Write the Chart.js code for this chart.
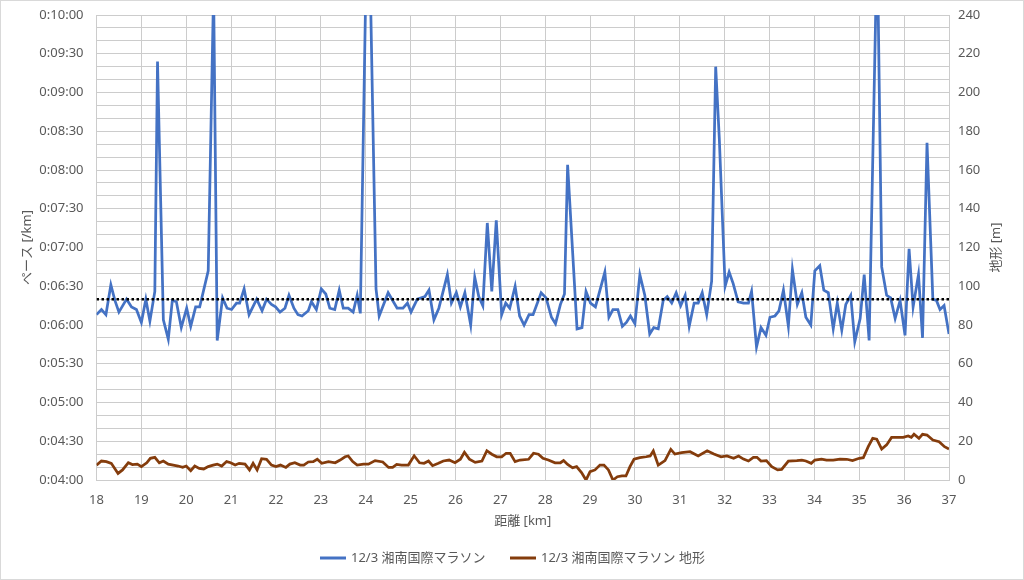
<!DOCTYPE html>
<html>
<head>
<meta charset="utf-8">
<script src="https://cdn.jsdelivr.net/npm/chart.js@4.4.0/dist/chart.umd.min.js"></script>
<style>
  html, body { margin: 0; padding: 0; background: #fff; }
  #wrap { width: 1024px; height: 580px; }
</style>
</head>
<body>
<div id="wrap"><canvas id="paceChart" width="1024" height="580"></canvas></div>
<script>
// ペース（秒/km）と地形（m）を距離に対して表示
const paceKm = [18.00, 18.11, 18.21, 18.32, 18.41, 18.50, 18.67, 18.78, 18.89, 19.00, 19.10, 19.19, 19.30, 19.36, 19.49, 19.60, 19.69, 19.78, 19.89, 20.01, 20.10, 20.21, 20.30, 20.49, 20.61, 20.69, 20.81, 20.91, 21.01, 21.12, 21.19, 21.29, 21.40, 21.57, 21.69, 21.79, 21.90, 21.99, 22.09, 22.20, 22.29, 22.40, 22.49, 22.58, 22.72, 22.79, 22.90, 23.01, 23.11, 23.20, 23.31, 23.41, 23.50, 23.61, 23.72, 23.81, 23.88, 24.05, 24.23, 24.30, 24.50, 24.70, 24.83, 24.93, 25.01, 25.15, 25.32, 25.41, 25.52, 25.63, 25.82, 25.91, 26.02, 26.11, 26.21, 26.34, 26.43, 26.52, 26.61, 26.71, 26.81, 26.91, 27.03, 27.12, 27.21, 27.33, 27.43, 27.53, 27.64, 27.73, 27.91, 28.02, 28.14, 28.23, 28.34, 28.43, 28.50, 28.71, 28.82, 28.91, 29.01, 29.12, 29.33, 29.42, 29.51, 29.62, 29.72, 29.81, 29.90, 30.00, 30.11, 30.22, 30.33, 30.42, 30.52, 30.63, 30.72, 30.82, 30.92, 31.02, 31.12, 31.21, 31.32, 31.41, 31.50, 31.60, 31.71, 31.80, 31.88, 32.01, 32.10, 32.19, 32.30, 32.42, 32.53, 32.60, 32.71, 32.81, 32.92, 33.01, 33.12, 33.21, 33.31, 33.42, 33.51, 33.62, 33.72, 33.81, 33.92, 34.01, 34.12, 34.21, 34.31, 34.42, 34.51, 34.61, 34.70, 34.81, 34.90, 35.02, 35.11, 35.22, 35.40, 35.50, 35.61, 35.70, 35.80, 35.91, 36.02, 36.11, 36.20, 36.32, 36.41, 36.51, 36.64, 36.72, 36.80, 36.89, 37.00];
const paceSec = [368, 372, 368, 391, 379, 370, 380, 374, 372, 362, 380, 363, 386, 564, 364, 349, 379, 378, 358, 373, 359, 374, 374, 402, 620, 348, 381, 373, 372, 377, 377, 388, 368, 380, 371, 380, 376, 374, 370, 373, 383, 373, 368, 367, 371, 378, 372, 388, 384, 373, 372, 387, 373, 373, 370, 383, 369, 720, 388, 367, 385, 373, 373, 377, 370, 380, 382, 387, 364, 373, 399, 377, 385, 374, 385, 360, 397, 382, 375, 439, 386, 441, 368, 377, 373, 390, 367, 360, 368, 368, 385, 381, 366, 361, 376, 384, 484, 357, 358, 386, 377, 374, 401, 366, 372, 372, 359, 362, 367, 361, 399, 383, 353, 358, 357, 379, 382, 377, 385, 375, 383, 359, 377, 377, 385, 368, 394, 560, 505, 390, 401, 392, 378, 377, 377, 386, 343, 358, 352, 366, 367, 371, 387, 359, 403, 376, 385, 366, 360, 402, 406, 387, 385, 357, 377, 356, 376, 383, 347, 365, 399, 348, 660, 405, 383, 381, 365, 379, 352, 419, 374, 399, 350, 501, 380, 379, 372, 375, 353];

const terrainKm = [18.00, 18.11, 18.22, 18.33, 18.48, 18.58, 18.71, 18.80, 18.91, 19.00, 19.12, 19.20, 19.30, 19.40, 19.49, 19.60, 19.71, 19.82, 19.92, 20.00, 20.10, 20.19, 20.29, 20.39, 20.49, 20.60, 20.69, 20.79, 20.90, 20.99, 21.09, 21.18, 21.31, 21.41, 21.49, 21.58, 21.68, 21.79, 21.90, 22.00, 22.10, 22.22, 22.31, 22.42, 22.54, 22.62, 22.72, 22.83, 22.92, 23.02, 23.17, 23.32, 23.43, 23.54, 23.61, 23.71, 23.81, 23.95, 24.06, 24.21, 24.38, 24.51, 24.60, 24.69, 24.80, 24.95, 25.08, 25.20, 25.30, 25.40, 25.49, 25.62, 25.73, 25.86, 25.99, 26.11, 26.20, 26.31, 26.44, 26.59, 26.70, 26.81, 26.92, 27.03, 27.13, 27.22, 27.33, 27.44, 27.63, 27.74, 27.85, 27.95, 28.07, 28.22, 28.34, 28.41, 28.50, 28.61, 28.70, 28.81, 28.91, 29.00, 29.11, 29.22, 29.31, 29.41, 29.51, 29.61, 29.71, 29.80, 29.89, 29.98, 30.11, 30.25, 30.34, 30.41, 30.52, 30.67, 30.80, 30.89, 31.04, 31.23, 31.41, 31.61, 31.76, 31.92, 32.05, 32.20, 32.31, 32.42, 32.53, 32.64, 32.72, 32.81, 32.93, 33.05, 33.18, 33.27, 33.42, 33.61, 33.72, 33.81, 33.93, 34.01, 34.16, 34.27, 34.42, 34.57, 34.72, 34.85, 35.00, 35.09, 35.20, 35.30, 35.39, 35.50, 35.61, 35.72, 35.83, 35.98, 36.09, 36.16, 36.22, 36.33, 36.41, 36.51, 36.64, 36.78, 36.90, 37.00];
const terrainM = [7.7, 9.8, 9.5, 8.6, 3.4, 5.2, 8.9, 8.0, 8.2, 6.9, 8.9, 11.2, 11.7, 8.9, 9.8, 8.2, 7.7, 7.2, 6.5, 7.2, 4.8, 7.2, 6.0, 5.7, 6.9, 7.7, 8.2, 7.2, 9.5, 8.9, 7.7, 8.6, 8.2, 5.2, 8.6, 5.2, 11.0, 10.7, 7.7, 6.9, 7.7, 6.5, 8.2, 8.9, 7.7, 7.7, 9.3, 9.5, 10.7, 8.6, 9.5, 8.9, 10.3, 12.0, 12.4, 9.5, 7.7, 8.2, 8.2, 10.0, 9.3, 6.5, 6.5, 8.0, 7.7, 7.7, 12.5, 8.9, 8.6, 9.8, 7.4, 8.6, 9.8, 10.3, 8.9, 10.7, 14.3, 10.8, 9.1, 9.8, 15.1, 13.3, 12.0, 12.0, 13.8, 13.8, 9.5, 10.3, 10.7, 13.8, 13.3, 11.2, 10.3, 8.9, 8.9, 10.0, 8.0, 6.3, 6.9, 3.8, 0, 4.3, 5.2, 7.7, 7.7, 5.2, 0, 1.7, 2.1, 2.1, 6.9, 10.7, 11.5, 12.0, 12.4, 15.0, 7.7, 10.0, 15.8, 13.4, 14.1, 14.6, 12.4, 15.1, 13.4, 12.0, 12.4, 11.2, 12.4, 10.8, 9.8, 11.7, 11.7, 9.8, 10.0, 6.9, 5.2, 5.5, 9.8, 10.0, 10.3, 9.8, 8.6, 10.3, 10.8, 10.3, 10.3, 10.8, 10.7, 10.0, 11.2, 11.5, 17.2, 21.5, 21.1, 16.0, 18.1, 22.0, 22.0, 22.0, 22.7, 22.0, 23.6, 21.5, 23.6, 23.2, 20.6, 19.8, 17.2, 16.0];

const avgPace = 380; // 0:06:20 の目安線
const kmRange = [18, 37];
const paceRange = [240, 600];
const terrainRange = [0, 240];

const seriesNames = ["12/3 湘南国際マラソン", "12/3 湘南国際マラソン 地形"];
const seriesColors = ["#4472C4", "#843C0C"];

const latin = '"Noto Sans", "Noto Sans CJK JP", sans-serif';
const gray = "#595959";
const gridColor = "#cccccc";

function fmtPace(v) {
  const m = Math.floor(v / 60);
  const s = v % 60;
  return "0:" + String(m).padStart(2, "0") + ":" + String(s).padStart(2, "0");
}

const toPoints = (xs, ys) => xs.map((x, i) => ({ x: x, y: ys[i] }));

// 縦軸の幅を固定し、上下の自動余白を消す
const fixVertical = (w) => (s) => {
  s.width = w;
  s.paddingTop = 0;
  s.paddingBottom = 0;
};

// 軸タイトル・凡例・枠線を描くプラグイン
const decorPlugin = {
  id: "decor",
  beforeDraw(chart) {
    const ctx = chart.ctx;
    ctx.save();
    ctx.fillStyle = "#fff";
    ctx.fillRect(0, 0, chart.width, chart.height);
    ctx.restore();
  },
  afterDraw(chart) {
    const ctx = chart.ctx;
    const area = chart.chartArea;
    const midY = (area.top + area.bottom) / 2;
    ctx.save();
    ctx.fillStyle = gray;
    ctx.font = "13px " + latin;
    ctx.textAlign = "center";
    ctx.textBaseline = "middle";

    // x軸タイトル
    ctx.fillText("距離 [km]", (area.left + area.right) / 2, 521);

    // 左右の軸タイトル（下から上へ）
    ctx.save();
    ctx.translate(27, midY);
    ctx.rotate(-Math.PI / 2);
    ctx.fillText("ペース [/km]", 0, 0);
    ctx.restore();

    ctx.save();
    ctx.translate(996, midY);
    ctx.rotate(-Math.PI / 2);
    ctx.fillText("地形 [m]", 0, 0);
    ctx.restore();

    // 凡例
    ctx.textAlign = "left";
    const legendY = 558;
    const items = [{ x: 320 }, { x: 510 }];
    items.forEach((item, i) => {
      ctx.strokeStyle = seriesColors[i];
      ctx.lineWidth = 3;
      ctx.beginPath();
      ctx.moveTo(item.x, legendY);
      ctx.lineTo(item.x + 26, legendY);
      ctx.stroke();
      ctx.fillText(seriesNames[i], item.x + 31, legendY);
    });

    // 外枠
    ctx.strokeStyle = "#d9d9d9";
    ctx.lineWidth = 1;
    ctx.strokeRect(0.5, 0.5, chart.width - 1, chart.height - 1);
    ctx.restore();
  },
};

new Chart(document.getElementById("paceChart"), {
  type: "line",
  data: {
    datasets: [
      {
        label: "avg",
        data: [{ x: kmRange[0], y: avgPace }, { x: kmRange[1], y: avgPace }],
        borderColor: "#000",
        borderWidth: 2.5,
        borderDash: [2.5, 2.5],
        pointRadius: 0,
        yAxisID: "y",
      },
      {
        label: seriesNames[0],
        data: toPoints(paceKm, paceSec),
        borderColor: seriesColors[0],
        borderWidth: 2.75,
        pointRadius: 0,
        tension: 0,
        yAxisID: "y",
      },
      {
        label: seriesNames[1],
        data: toPoints(terrainKm, terrainM),
        borderColor: seriesColors[1],
        borderWidth: 2.75,
        pointRadius: 0,
        tension: 0,
        yAxisID: "y1",
      },
    ],
  },
  options: {
    responsive: false,
    animation: false,
    devicePixelRatio: 1,
    layout: { padding: { top: 15, right: 0, bottom: 0, left: 0 } },
    plugins: {
      legend: { display: false },
      tooltip: { enabled: false },
    },
    scales: {
      x: {
        type: "linear",
        min: kmRange[0],
        max: kmRange[1],
        afterFit: (s) => { s.height = 100; },
        ticks: {
          stepSize: 1,
          color: gray,
          padding: 12,
          font: { family: latin, size: 13 },
        },
        grid: { color: gridColor, drawTicks: false },
        border: { color: gridColor },
      },
      y: {
        position: "left",
        min: paceRange[0],
        max: paceRange[1],
        afterFit: fixVertical(96.5),
        ticks: {
          stepSize: 10,
          autoSkip: false,
          color: gray,
          padding: 13,
          font: { family: latin, size: 13 },
          callback: (v) => (v % 30 === 0 ? fmtPace(v) : ""),
        },
        grid: { color: gridColor, drawTicks: false },
        border: { color: gridColor },
      },
      y1: {
        position: "right",
        min: terrainRange[0],
        max: terrainRange[1],
        afterFit: fixVertical(75),
        ticks: {
          stepSize: 20,
          color: gray,
          padding: 9,
          font: { family: latin, size: 13 },
        },
        grid: { display: false, drawTicks: false },
        border: { display: false },
      },
    },
  },
  plugins: [decorPlugin],
});
</script>
</body>
</html>
